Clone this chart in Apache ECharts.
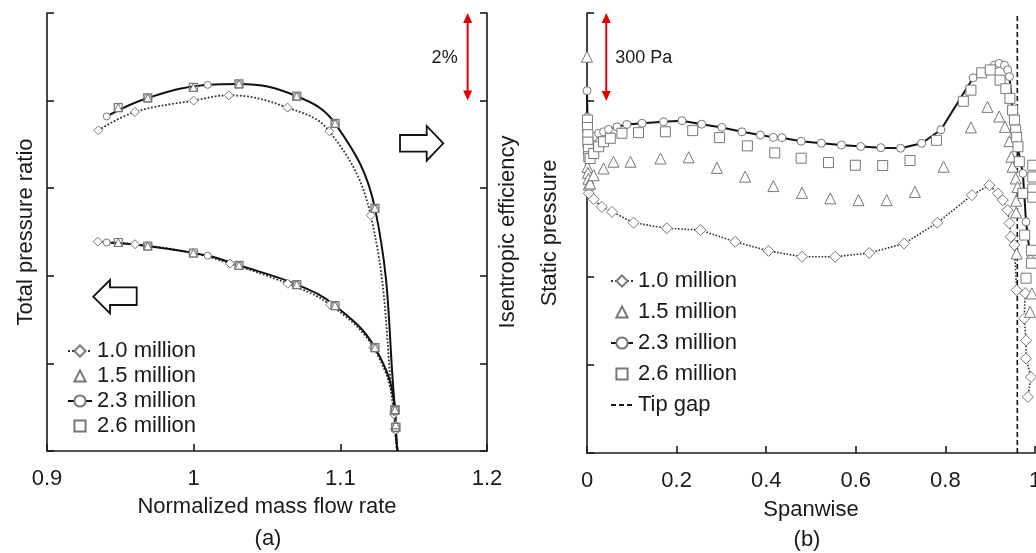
<!DOCTYPE html>
<html><head><meta charset="utf-8">
<script src="https://cdn.jsdelivr.net/npm/echarts@6/dist/echarts.min.js"></script>
<style>html,body{margin:0;padding:0;background:#fff}#c{width:1036px;height:553px}</style>
</head><body><div id="c"></div>
<script>
const FONT = 'Liberation Sans, Arial, Helvetica, sans-serif';
const TXT = '#1a1a1a';
const MK = '#777';

// ---------- Panel (a): normalized mass flow rate (x) vs. arbitrary units (1 unit = 2 % efficiency)
const aXTicks = [0.9, 1.0, 1.1, 1.2];
const effEnd10 = [1.1386, 0];
const effEnd23 = [1.1390, 0];
const eff10 = [[0.935,3.66],[0.960,3.87],[1.000,4.00],[1.024,4.06],[1.064,3.92],[1.0925,3.65],[1.1207,2.69],[1.1365,0.42],[1.1372,0.25]];
const eff15 = [[0.9486,3.92],[0.9687,4.03],[0.9998,4.15],[1.0309,4.19],[1.0703,4.05],[1.0964,3.74],[1.1236,2.77],[1.1373,0.47],[1.1378,0.30]];
const eff23 = [[0.9407,3.82],[0.9687,4.03],[1.0096,4.18],[1.0309,4.19],[1.0703,4.05],[1.0964,3.74],[1.1236,2.77],[1.1373,0.47],[1.1378,0.24]];
const eff26 = [[0.9486,3.92],[0.9687,4.03],[0.9998,4.15],[1.0309,4.19],[1.0703,4.05],[1.0964,3.74],[1.1236,2.77],[1.1373,0.47],[1.1378,0.27]];
const prEnd10 = [1.1386, 0];
const prEnd23 = [1.1390, 0];
const pr10 = [[0.9346,2.39],[0.960,2.36],[0.9995,2.26],[1.0248,2.14],[1.0641,1.91],[1.0930,1.67],[1.1225,1.18],[1.1368,0.45],[1.1374,0.25]];
const pr15 = [[0.9486,2.38],[0.9687,2.34],[0.9998,2.26],[1.0309,2.12],[1.0703,1.90],[1.0964,1.66],[1.1236,1.18],[1.1373,0.47],[1.1378,0.30]];
const pr23 = [[0.9407,2.38],[0.9687,2.34],[1.0096,2.23],[1.0309,2.12],[1.0703,1.90],[1.0964,1.66],[1.1236,1.18],[1.1373,0.47],[1.1378,0.24]];
const pr26 = [[0.9486,2.38],[0.9687,2.34],[0.9998,2.26],[1.0309,2.12],[1.0703,1.90],[1.0964,1.66],[1.1236,1.18],[1.1373,0.47],[1.1378,0.27]];

// ---------- Panel (b): spanwise (x) vs. static pressure, relative Pa
const tipGapX = 0.9605;
const b10 = [[0.004,885],[0.015,865],[0.033,839],[0.056,822],[0.104,785],[0.178,766],[0.253,760],[0.331,720],[0.405,689],[0.480,669],[0.554,669],[0.630,682],[0.708,714],[0.782,785],[0.859,879],[0.898,913],[0.917,885],[0.928,862],[0.939,828],[0.943,783],[0.946,737],[0.954,709],[0.959,555],[0.978,545],[0.976,458],[0.980,384],[0.980,322],[0.991,259],[0.984,191]];
const b15 = [[0,1351],[0.001,975],[0.002,955],[0.003,935],[0.004,915],[0.007,919],[0.015,947],[0.037,970],[0.059,993],[0.097,993],[0.164,1004],[0.227,1008],[0.290,972],[0.353,942],[0.416,910],[0.480,887],[0.543,868],[0.606,862],[0.669,862],[0.732,890],[0.796,976],[0.857,1110],[0.894,1180],[0.920,1147],[0.933,1112],[0.943,1063],[0.947,1010],[0.950,976],[0.957,936],[0.961,907],[0.958,860],[0.958,820],[0.959,680],[0.993,544],[0.989,481]];
const b23 = [[0,1235],[0.001,1145],[0.002,1125],[0.003,1104],[0.005,1084],[0.015,1078],[0.026,1090],[0.037,1095],[0.048,1103],[0.067,1112],[0.089,1120],[0.123,1124],[0.171,1129],[0.212,1133],[0.256,1121],[0.301,1110],[0.346,1095],[0.387,1084],[0.416,1076],[0.435,1075],[0.478,1063],[0.523,1056],[0.568,1050],[0.611,1045],[0.656,1041],[0.700,1039],[0.747,1056],[0.790,1102],[0.862,1279],[0.909,1322],[0.920,1328],[0.932,1322],[0.939,1306],[0.943,1283],[0.954,1101],[0.973,953],[0.980,788],[0.990,660]];
const b26 = [[0.001,1135],[0.001,1110],[0.002,1085],[0.002,1060],[0.003,1035],[0.004,1010],[0.007,1004],[0.015,1021],[0.026,1044],[0.037,1061],[0.052,1073],[0.078,1090],[0.115,1092],[0.175,1095],[0.236,1099],[0.296,1075],[0.358,1047],[0.419,1023],[0.478,1005],[0.539,990],[0.599,981],[0.660,980],[0.721,997],[0.780,1066],[0.840,1199],[0.857,1237],[0.881,1296],[0.900,1306],[0.922,1271],[0.935,1242],[0.944,1209],[0.950,1169],[0.954,1135],[0.957,1101],[0.959,1076],[0.962,1044],[0.965,993],[0.973,885],[0.977,743],[0.980,596],[0.995,981],[0.995,941],[0.995,900],[0.995,872],[0.992,691],[0.992,647]];

const legendNames = ['1.0 million', '1.5 million', '2.3 million', '2.6 million'];

const chart = echarts.init(document.getElementById('c'), null, {renderer: 'canvas'});

const axisLine = {show: true, lineStyle: {color: '#1a1a1a', width: 1.6}};
const axisTick = {show: true, inside: true, length: 7, lineStyle: {color: '#1a1a1a', width: 1.6}};
const nameStyle = {fontSize: 22, fontFamily: FONT, color: TXT};
const labelStyle = {fontSize: 22, fontFamily: FONT, color: TXT, margin: 17};
const mkStyle = {color: '#fff', borderColor: MK, borderWidth: 1};
const mkStyleClear = {color: 'rgba(255,255,255,0)', borderColor: MK, borderWidth: 1.2};
const noLine = {opacity: 0, width: 0};

function withEnd(arr, end) {
  return arr.concat([{value: end, symbol: 'none'}]);
}
// marker-only series drawn as a line series with an invisible line (keeps legend icons square)
function markers(name, xi, yi, data, symbol, size, style) {
  return {name, type: 'line', xAxisIndex: xi, yAxisIndex: yi, data, symbol, symbolSize: size,
          showSymbol: true, itemStyle: style, lineStyle: noLine, z: 3};
}

const legendText = {fontSize: 22, fontFamily: FONT, color: TXT};

const option = {
  animation: false,
  backgroundColor: '#fff',
  grid: [
    {left: 47, top: 13, width: 440, height: 438, outerBoundsMode: 'none', containLabel: false},
    {left: 587, top: 13, width: 448, height: 440, outerBoundsMode: 'none', containLabel: false}
  ],
  xAxis: [
    {gridIndex: 0, type: 'value', min: aXTicks[0], max: aXTicks[aXTicks.length - 1], interval: 0.1,
     axisLine, axisTick, splitLine: {show: false}, axisLabel: labelStyle,
     name: 'Normalized mass flow rate', nameLocation: 'middle', nameGap: 45, nameTextStyle: nameStyle},
    {gridIndex: 1, type: 'value', min: 0, max: 1, interval: 0.2,
     axisLine, axisTick, splitLine: {show: false}, axisLabel: labelStyle,
     name: 'Spanwise', nameLocation: 'middle', nameGap: 46, nameTextStyle: nameStyle}
  ],
  yAxis: [
    {gridIndex: 0, type: 'value', min: 0, max: 5, interval: 1, position: 'left',
     axisLine, axisTick, splitLine: {show: false}, axisLabel: {show: false},
     name: 'Total pressure ratio', nameLocation: 'middle', nameGap: 10, nameTextStyle: nameStyle},
    {gridIndex: 0, type: 'value', min: 0, max: 5, interval: 1, position: 'right',
     axisLine, axisTick, splitLine: {show: false}, axisLabel: {show: false},
     name: 'Isentropic efficiency', nameLocation: 'middle', nameGap: 10, nameRotate: 90, nameTextStyle: nameStyle},
    {gridIndex: 1, type: 'value', min: 0, max: 1500, interval: 300, position: 'left',
     axisLine, axisTick, splitLine: {show: false}, axisLabel: {show: false},
     name: 'Static pressure', nameLocation: 'middle', nameGap: 26, nameTextStyle: nameStyle}
  ],
  legend: [
    {left: 67, top: 340, padding: 0, orient: 'vertical', itemGap: 3, itemWidth: 24, itemHeight: 14,
     selectedMode: false, data: legendNames, textStyle: legendText},
    {left: 610, top: 270, padding: 0, orient: 'vertical', itemGap: 9, itemWidth: 22, itemHeight: 14,
     selectedMode: false, data: legendNames.concat([{name: 'Tip gap', itemStyle: {opacity: 0}}]), textStyle: legendText}
  ],
  series: [
    // panel (a)
    {name: '1.0 million', type: 'line', xAxisIndex: 0, yAxisIndex: 0, smooth: 0.4, data: withEnd(eff10, effEnd10),
     symbol: 'diamond', symbolSize: 9, itemStyle: mkStyle, lineStyle: {color: '#333', width: 1.8, type: 'dotted'}},
    {name: '1.0 million', type: 'line', xAxisIndex: 0, yAxisIndex: 0, smooth: 0.4, data: withEnd(pr10, prEnd10),
     symbol: 'diamond', symbolSize: 9, itemStyle: mkStyle, lineStyle: {color: '#333', width: 1.8, type: 'dotted'}},
    {name: '2.3 million', type: 'line', xAxisIndex: 0, yAxisIndex: 0, smooth: 0.4, data: withEnd(eff23, effEnd23),
     symbol: 'circle', symbolSize: 7, itemStyle: mkStyle, lineStyle: {color: '#111', width: 2}},
    {name: '2.3 million', type: 'line', xAxisIndex: 0, yAxisIndex: 0, smooth: 0.4, data: withEnd(pr23, prEnd23),
     symbol: 'circle', symbolSize: 7, itemStyle: mkStyle, lineStyle: {color: '#111', width: 2}},
    markers('1.5 million', 0, 0, eff15, 'triangle', 8, mkStyle),
    markers('1.5 million', 0, 0, pr15, 'triangle', 8, mkStyle),
    markers('2.6 million', 0, 0, eff26, 'rect', 8, mkStyleClear),
    markers('2.6 million', 0, 0, pr26, 'rect', 8, mkStyleClear),
    // panel (b)
    {name: 'Tip gap', type: 'line', xAxisIndex: 1, yAxisIndex: 2, data: [[tipGapX, 0], [tipGapX, 1500]],
     symbol: 'none', itemStyle: {color: 'rgba(0,0,0,0)', borderColor: 'rgba(0,0,0,0)'},
     lineStyle: {color: '#111', width: 1.6, type: [5, 3]}},
    {name: '1.0 million', type: 'line', xAxisIndex: 1, yAxisIndex: 2, data: b10,
     symbol: 'diamond', symbolSize: 11, itemStyle: mkStyle, lineStyle: {color: '#333', width: 1.6, type: 'dotted'}},
    {name: '2.3 million', type: 'line', xAxisIndex: 1, yAxisIndex: 2, data: b23,
     symbol: 'circle', symbolSize: 8, itemStyle: mkStyle, lineStyle: {color: '#111', width: 2}},
    markers('1.5 million', 1, 2, b15, 'triangle', 11, mkStyle),
    markers('2.6 million', 1, 2, b26, 'rect', 10, mkStyle)
  ]
};
chart.setOption(option);

// annotations (arrows and labels), placed through the axes' scales
function redArrow(p1, p2) {
  const x = p1[0], yT = p1[1], yB = p2[1], hw = 4.5, hl = 10, c = '#e00000';
  return [
    {type: 'line', shape: {x1: x, y1: yT + hl - 1, x2: x, y2: yB - hl + 1}, style: {stroke: c, lineWidth: 2}},
    {type: 'polygon', shape: {points: [[x, yT], [x - hw, yT + hl], [x + hw, yT + hl]]}, style: {fill: c}},
    {type: 'polygon', shape: {points: [[x, yB], [x - hw, yB - hl], [x + hw, yB - hl]]}, style: {fill: c}}
  ];
}
const a1 = chart.convertToPixel({xAxisIndex: 0, yAxisIndex: 0}, [1.1868, 5]);
const a2 = chart.convertToPixel({xAxisIndex: 0, yAxisIndex: 0}, [1.1868, 4]);
const c1 = chart.convertToPixel({xAxisIndex: 1, yAxisIndex: 2}, [0.043, 1500]);
const c2 = chart.convertToPixel({xAxisIndex: 1, yAxisIndex: 2}, [0.043, 1200]);
const txt = (t, x, y, align, size) => ({type: 'text', x, y, style: {text: t, fontSize: size, fontFamily: FONT, fill: TXT, align, verticalAlign: 'middle'}});
const arrowStyle = {fill: '#fff', stroke: '#111', lineWidth: 1.8};
chart.setOption({
  graphic: [].concat(
    redArrow(a1, a2),
    redArrow(c1, c2),
    [
      txt('2%', a1[0] - 10, (a1[1] + a2[1]) / 2 + 1, 'right', 18),
      txt('300 Pa', c1[0] + 9, (c1[1] + c2[1]) / 2 + 1, 'left', 18),
      txt('(a)', 268, 539, 'center', 22),
      txt('(b)', 807, 540, 'center', 22),
      {type: 'polygon', shape: {points: [[93.3,296.7],[110,280],[110,287.3],[136.7,287.3],[136.7,305],[110,305],[110,313.3]]}, style: arrowStyle},
      {type: 'polygon', shape: {points: [[443.3,143.3],[426.7,126],[426.7,135],[400,135],[400,151.7],[426.7,151.7],[426.7,160.7]]}, style: arrowStyle}
    ]
  )
});
</script>
</body></html>
